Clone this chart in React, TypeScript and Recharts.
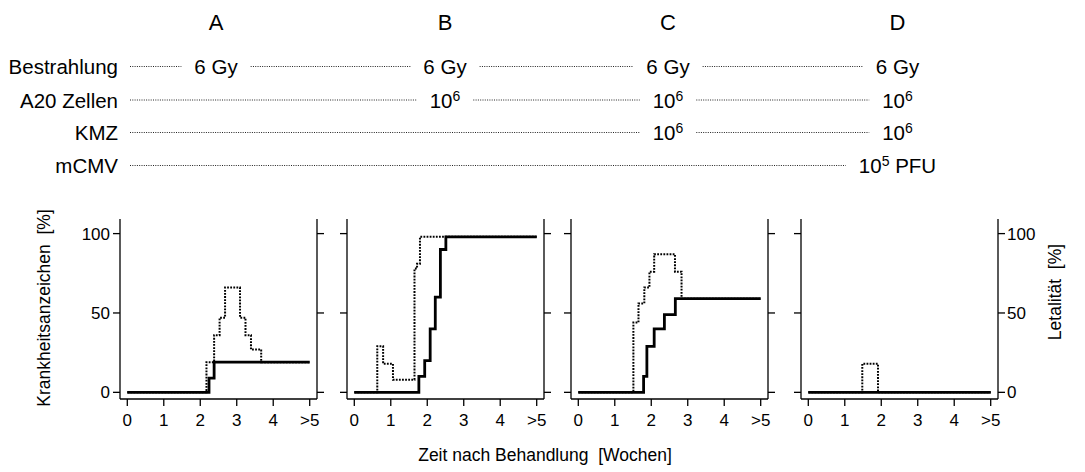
import React from "react";
import { LineChart, Line, XAxis, YAxis } from "recharts";

type Pt = { x: number; y: number };

// column headers and treatment table
const panelNames = ["A", "B", "C", "D"];
const rowLabels = ["Bestrahlung", "A20 Zellen", "KMZ", "mCMV"];
const bestrahlung = ["6 Gy", "6 Gy", "6 Gy", "6 Gy"];
const a20Zellen = ["", "10^6", "10^6", "10^6"];
const kmz = ["", "", "10^6", "10^6"];
const mcmv = ["", "", "", "10^5 PFU"];
const rowValues = [bestrahlung, a20Zellen, kmz, mcmv];

const weekTicks = [0, 1, 2, 3, 4, 5];
const percentTicks = [0, 50, 100];

// solid = Letalität, dotted = Krankheitsanzeichen (stepAfter points, x in weeks)
const solidA: Pt[] = [
  { x: 0, y: 0 }, { x: 2.24, y: 9 }, { x: 2.38, y: 19 }, { x: 5, y: 19 },
];
const dottedA: Pt[] = [
  { x: 0, y: 0 }, { x: 2.17, y: 19 }, { x: 2.38, y: 36 }, { x: 2.53, y: 47 },
  { x: 2.68, y: 66 }, { x: 3.09, y: 47 }, { x: 3.24, y: 36 }, { x: 3.39, y: 27 },
  { x: 3.67, y: 19 }, { x: 5, y: 19 },
];
const solidB: Pt[] = [
  { x: 0, y: 0 }, { x: 1.77, y: 10 }, { x: 1.93, y: 20 }, { x: 2.08, y: 40 },
  { x: 2.22, y: 60 }, { x: 2.36, y: 90 }, { x: 2.51, y: 98 }, { x: 5, y: 98 },
];
const dottedB: Pt[] = [
  { x: 0, y: 0 }, { x: 0.63, y: 29 }, { x: 0.79, y: 18 }, { x: 1.06, y: 8 },
  { x: 1.65, y: 78 }, { x: 1.72, y: 81 }, { x: 1.8, y: 98 }, { x: 5, y: 98 },
];
const solidC: Pt[] = [
  { x: 0, y: 0 }, { x: 1.79, y: 10 }, { x: 1.88, y: 29 }, { x: 2.08, y: 40 },
  { x: 2.36, y: 49 }, { x: 2.66, y: 59 }, { x: 5, y: 59 },
];
const dottedC: Pt[] = [
  { x: 0, y: 0 }, { x: 1.51, y: 44 }, { x: 1.65, y: 56 }, { x: 1.81, y: 66 },
  { x: 1.95, y: 76 }, { x: 2.08, y: 87 }, { x: 2.65, y: 76 }, { x: 2.83, y: 59 },
  { x: 5, y: 59 },
];
const solidD: Pt[] = [{ x: 0, y: 0 }, { x: 5, y: 0 }];
const dottedD: Pt[] = [{ x: 0, y: 0 }, { x: 1.48, y: 18 }, { x: 1.91, y: 0 }, { x: 5, y: 0 }];

const solidSeries = [solidA, solidB, solidC, solidD];
const dottedSeries = [dottedA, dottedB, dottedC, dottedD];

// layout
const FONT = '"Liberation Sans", Arial, sans-serif';
const PANEL_LEFT = [119.5, 347, 570.5, 800.5];
const COL_X = [216, 445, 668, 897.5];
const ROW_BASE = [74, 107.5, 140, 173];
const PLOT_TOP = 219.3;
const PLOT_W = 197;
const PLOT_H = 180;
const AXW = 50;
const MT = 10;
const XAH = 40;
const X_DOMAIN = [-0.2, 5.2];
const Y_DOMAIN = [-4.2, 109.2];
const VAL_FS = 20.5;
const SUP_FS = 14;

const ctx =
  typeof document !== "undefined" ? document.createElement("canvas").getContext("2d") : null;

function measure(s: string, fs: number) {
  if (!ctx) return s.length * fs * 0.55;
  ctx.font = `${fs}px "Liberation Sans"`;
  return ctx.measureText(s).width;
}

function splitPow(s: string) {
  const m = s.match(/^(\d+)\^(\d+)(.*)$/);
  return m ? { base: m[1], exp: m[2], rest: m[3] } : null;
}

function cellWidth(s: string) {
  const p = splitPow(s);
  if (!p) return measure(s, VAL_FS);
  return measure(p.base, VAL_FS) + measure(p.exp, SUP_FS) + measure(p.rest, VAL_FS);
}

function CellText({ x, y, s }: { x: number; y: number; s: string }) {
  const p = splitPow(s);
  if (!p) {
    return (
      <text x={x} y={y} textAnchor="middle" fontSize={VAL_FS}>
        {s}
      </text>
    );
  }
  return (
    <text x={x} y={y} textAnchor="middle" fontSize={VAL_FS}>
      <tspan>{p.base}</tspan>
      <tspan dy={-7} fontSize={SUP_FS}>{p.exp}</tspan>
      {p.rest && <tspan dy={7}>{p.rest}</tspan>}
    </text>
  );
}

function Header() {
  return (
    <svg
      width={1085}
      height={472}
      style={{ position: "absolute", left: 0, top: 0, fontFamily: FONT }}
    >
      {panelNames.map((n, i) => (
        <text key={n} x={COL_X[i]} y={30} textAnchor="middle" fontSize={22}>
          {n}
        </text>
      ))}
      {rowLabels.map((label, r) => {
        const y = ROW_BASE[r];
        const segs: [number, number][] = [];
        let start = 130;
        rowValues[r].forEach((v, i) => {
          if (!v) return;
          const w = cellWidth(v);
          segs.push([start, COL_X[i] - w / 2 - 13]);
          start = COL_X[i] + w / 2 + 13;
        });
        return (
          <g key={label}>
            <text x={118} y={y} textAnchor="end" fontSize={VAL_FS}>
              {label}
            </text>
            {segs.map(([a, b], k) => (
              <line
                key={k}
                x1={a}
                x2={b}
                y1={y - 7.5}
                y2={y - 7.5}
                stroke="#222"
                strokeWidth={1}
                strokeDasharray="1 1.3"
              />
            ))}
            {rowValues[r].map((v, i) =>
              v ? <CellText key={i} x={COL_X[i]} y={y} s={v} /> : null
            )}
          </g>
        );
      })}
      <text
        x={545}
        y={461}
        textAnchor="middle"
        fontSize={17.5}
        style={{ whiteSpace: "pre" }}
      >
        {"Zeit nach Behandlung  [Wochen]"}
      </text>
      <text
        transform="translate(50 308) rotate(-90)"
        textAnchor="middle"
        fontSize={17.5}
        style={{ whiteSpace: "pre" }}
      >
        {"Krankheitsanzeichen  [%]"}
      </text>
      <text
        transform="translate(1061 292) rotate(-90)"
        textAnchor="middle"
        fontSize={17.5}
        style={{ whiteSpace: "pre" }}
      >
        {"Letalität  [%]"}
      </text>
    </svg>
  );
}

const axisLine = { stroke: "#000", strokeWidth: 1.3 };
const tickLine = { stroke: "#000", strokeWidth: 1.3 };
const tickStyle = { fill: "#000", fontSize: 17, fontFamily: FONT };

function Panel({ idx }: { idx: number }) {
  const showLeft = idx === 0;
  const showRight = idx === panelNames.length - 1;
  return (
    <div style={{ position: "absolute", left: PANEL_LEFT[idx] - AXW, top: PLOT_TOP - MT }}>
      <LineChart
        width={AXW * 2 + PLOT_W}
        height={MT + PLOT_H + XAH}
        margin={{ top: MT, right: 0, bottom: 0, left: 0 }}
      >
        <XAxis
          xAxisId="b"
          type="number"
          dataKey="x"
          domain={X_DOMAIN}
          allowDataOverflow
          ticks={weekTicks}
          interval={0}
          tickFormatter={(v: number) => (v === 5 ? ">5" : String(v))}
          height={XAH}
          tickSize={7}
          tickMargin={8}
          axisLine={axisLine}
          tickLine={tickLine}
          tick={tickStyle}
        />
        <XAxis
          xAxisId="t"
          orientation="top"
          type="number"
          domain={X_DOMAIN}
          allowDataOverflow
          height={0}
          tick={false}
          tickLine={false}
          axisLine={axisLine}
        />
        <YAxis
          yAxisId="l"
          type="number"
          domain={Y_DOMAIN}
          allowDataOverflow
          ticks={percentTicks}
          interval={0}
          width={AXW}
          tickSize={7}
          tickMargin={3}
          tickFormatter={(v: number) => (showLeft ? String(v) : "")}
          axisLine={axisLine}
          tickLine={tickLine}
          tick={tickStyle}
        />
        <YAxis
          yAxisId="r"
          orientation="right"
          type="number"
          domain={Y_DOMAIN}
          allowDataOverflow
          ticks={percentTicks}
          interval={0}
          width={AXW}
          tickSize={7}
          tickMargin={2}
          tickFormatter={(v: number) => (showRight ? String(v) : "")}
          axisLine={axisLine}
          tickLine={tickLine}
          tick={tickStyle}
        />
        <Line
          xAxisId="b"
          yAxisId="l"
          data={dottedSeries[idx]}
          dataKey="y"
          type="stepAfter"
          stroke="#000"
          strokeWidth={2}
          strokeDasharray="1.8 1.3"
          dot={false}
          activeDot={false}
          isAnimationActive={false}
        />
        <Line
          xAxisId="b"
          yAxisId="l"
          data={solidSeries[idx]}
          dataKey="y"
          type="stepAfter"
          stroke="#000"
          strokeWidth={2.8}
          dot={false}
          activeDot={false}
          isAnimationActive={false}
        />
      </LineChart>
    </div>
  );
}

export default function App() {
  return (
    <div
      style={{
        position: "fixed",
        left: 0,
        top: 0,
        width: 1085,
        height: 472,
        background: "#fff",
        fontFamily: FONT,
        overflow: "hidden",
      }}
    >
      <Header />
      {panelNames.map((n, i) => (
        <Panel key={n} idx={i} />
      ))}
    </div>
  );
}
